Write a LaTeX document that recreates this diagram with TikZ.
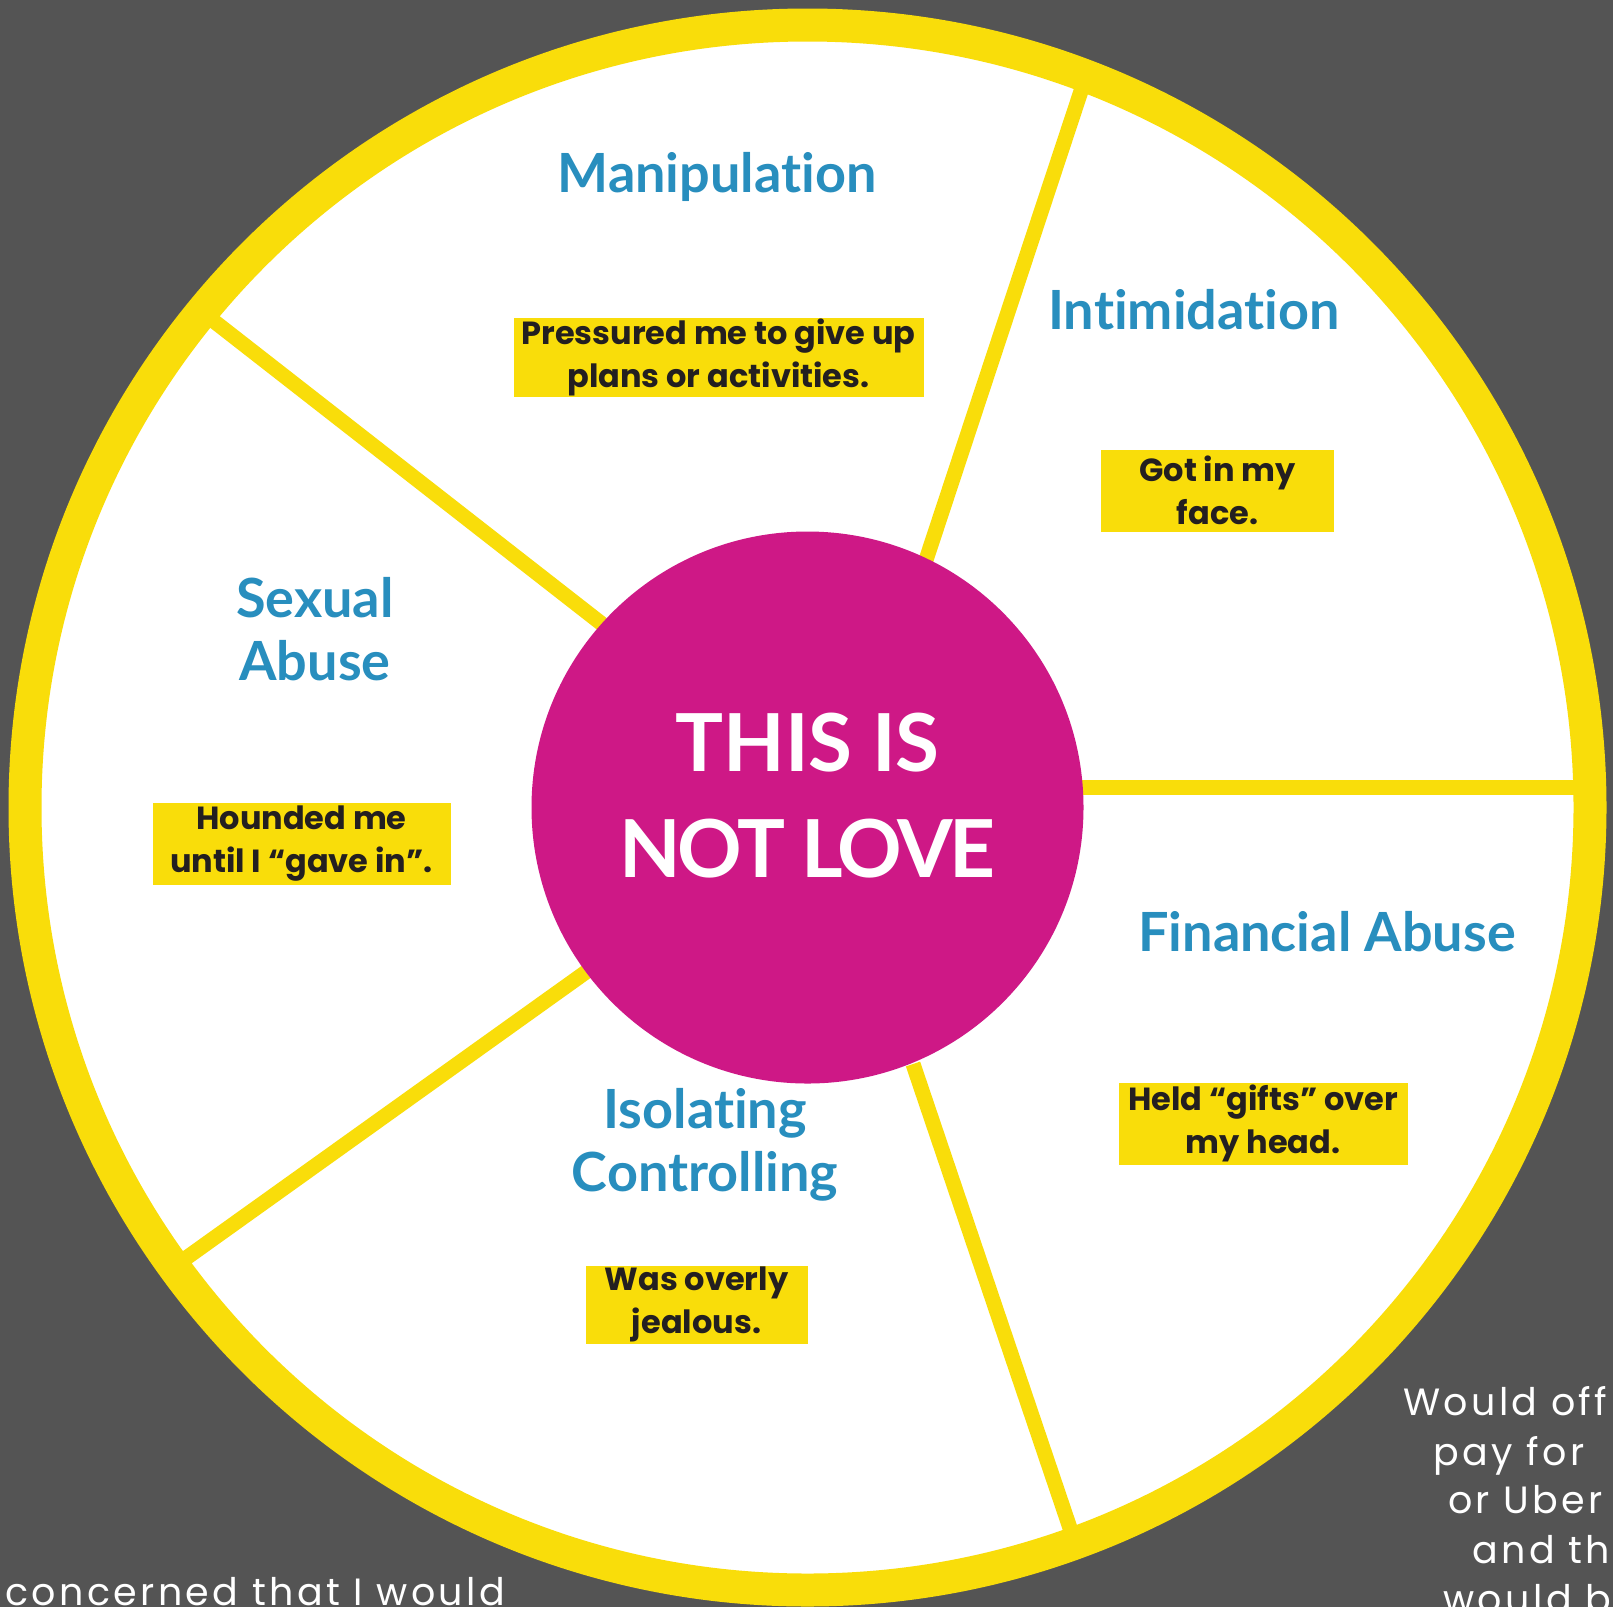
\documentclass[tikz,border=0pt]{standalone}
\usepackage{fontspec}
\setmainfont{Lato}[Ligatures=NoCommon]
\newfontfamily\boxfont{Poppins}
\newfontfamily\handfont{Poppins}[LetterSpace=9]
\definecolor{wheelgray}{RGB}{84,84,84}
\definecolor{wheelyellow}{RGB}{249,221,10}
\definecolor{wheelpink}{RGB}{206,24,134}
\definecolor{wheelblue}{RGB}{40,142,190}
\definecolor{darktext}{RGB}{35,31,32}

\begin{document}
\begin{tikzpicture}[x=1pt,y=-1pt,
  heading/.style={text=wheelblue,font=\bfseries\fontsize{54}{63}\selectfont,align=center,anchor=base,inner sep=0pt},
  ybox/.style={fill=wheelyellow,inner sep=0pt,text=darktext,align=center,font=\boxfont\bfseries\fontsize{32}{43}\selectfont},
  spoke/.style={draw=wheelyellow,line width=15pt},
  scribble/.style={text=white,font=\handfont\fontsize{38}{49}\selectfont,anchor=base west,inner sep=0pt}]

\clip (0,0) rectangle (1613,1607);
\fill[wheelgray] (0,0) rectangle (1613,1607);

% wheel
\fill[white] (807.5,807.5) circle (770);

\coordinate (ur-in) at (926,560);    \coordinate (ur-out) at (1084,82);
\coordinate (r-in) at (1080,787);    \coordinate (r-out) at (1580,787);
\coordinate (lr-in) at (913,1064);   \coordinate (lr-out) at (1072,1534);
\coordinate (ll-in) at (586,972);    \coordinate (ll-out) at (182,1261);
\coordinate (ul-in) at (602,624);    \coordinate (ul-out) at (206,315);

\draw[spoke] (ur-in) -- (ur-out);
\draw[spoke] (r-in) -- (r-out);
\draw[spoke] (lr-in) -- (lr-out);
\draw[spoke] (ll-in) -- (ll-out);
\draw[spoke] (ul-in) -- (ul-out);

\draw[wheelyellow,line width=33pt] (807.5,807.5) circle (782.5);

\node[circle,fill=wheelpink,minimum size=552pt,inner sep=0pt] (hub) at (807.5,807.5) {};
\node[text=white,font=\bfseries\fontsize{80}{106}\selectfont,anchor=base] (this) at (807.5,771) {THIS IS};
\node[text=white,font=\bfseries\fontsize{80}{106}\selectfont\addfontfeature{LetterSpace=-4},anchor=base] (notlove) at (807.5,877) {NOT LOVE};

% headings
\node[heading] (manip) at (717,192) {Manipulation};
\node[heading] (intim) at (1194,329) {Intimidation};
\node[heading] (sexual) at (315,680) {Sexual\\Abuse};
\node[heading] (financial) at (1327,951) {Financial Abuse};
\node[heading] (isolating) at (705,1191) {Isolating\\Controlling};

% examples
\node[ybox,minimum width=410pt,minimum height=79pt] (manipbox) at (718.5,357.5) {Pressured me to give up\\plans or activities.};
\node[ybox,minimum width=233pt,minimum height=82pt] (intimbox) at (1217.5,490.5) {Got in my\\face.};
\node[ybox,minimum width=298pt,minimum height=82pt] (sexualbox) at (301.5,843.5) {Hounded me\\until I “gave in”.};
\node[ybox,minimum width=289pt,minimum height=82pt] (financialbox) at (1263,1123.5) {Held “gifts” over\\my head.};
\node[ybox,minimum width=222pt,minimum height=78pt] (isolatingbox) at (696.5,1304.5) {Was overly\\jealous.};

% handwriting
\foreach \x/\y/\t [count=\i] in {1403/1415/Would off,1433/1465/pay for,1448/1513/or Uber,1472/1563/and th,1443/1612/would be}
  \node[scribble] (hand\i) at (\x,\y) {\t};
\node[scribble] (concerned) at (5,1605) {concerned that I would};

\end{tikzpicture}
\end{document}
